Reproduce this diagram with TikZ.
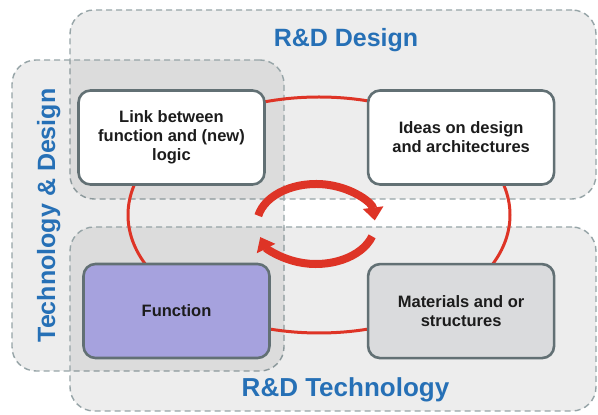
\documentclass[tikz,border=0pt]{standalone}
\usepackage{fontspec}
\setmainfont{Liberation Sans}
\usetikzlibrary{arrows.meta,calc,positioning}
\definecolor{rdblue}{RGB}{38,112,182}
\definecolor{rdred}{RGB}{222,52,38}
\definecolor{dashgray}{RGB}{150,164,167}
\definecolor{boxline}{RGB}{98,112,116}
\definecolor{lavender}{RGB}{166,162,222}
\definecolor{stone}{RGB}{218,219,221}
\definecolor{ink}{RGB}{28,28,28}

\begin{document}
\begin{tikzpicture}[x=1pt,y=1pt,>=Latex,node distance=77pt and 101pt,
  region/.style={draw=dashgray,dash pattern=on 6pt off 4pt,line width=1.4pt,
    rounded corners=24pt,fill=black,fill opacity=0.07,inner sep=0pt},
  box/.style={draw=boxline,line width=2.6pt,rounded corners=12pt,fill=white,
    minimum width=186pt,minimum height=94pt,align=center,text=ink,
    font=\bfseries\fontsize{16.5}{19}\selectfont},
  heading/.style={text=rdblue,anchor=base,font=\bfseries\fontsize{25}{30}\selectfont},
  ring/.style={draw=rdred,line width=3pt},
  cycarrow/.style={draw=rdred,line width=8pt,-{Triangle[width=20pt,length=13pt]}}]
\useasboundingbox[fill=white] (0,0) rectangle (598,415);

% regions
\node[region,minimum width=526pt,minimum height=189pt] (design) at (333,310.5) {};
\node[region,minimum width=272pt,minimum height=311pt] (techdes) at (148,199.5) {};
\node[region,minimum width=526pt,minimum height=184pt] (tech) at (333,96) {};

\node[heading] (designlbl) at (346,368) {R\&D Design};
\node[heading,font=\bfseries\fontsize{26}{30}\selectfont] (techlbl) at (345.5,18) {R\&D Technology};
\node[heading,rotate=90] (techdeslbl) at (55,199.5) {Technology \& Design};

% cycle behind the boxes
\draw[ring] (319,200) ellipse [x radius=191pt,y radius=118pt];

\coordinate (cyc) at (316,191);
\draw[cycarrow] ($(cyc)+(168:59pt and 40pt)$) arc[start angle=168,end angle=5,x radius=59pt,y radius=40pt];
\draw[cycarrow] ($(cyc)+(-18:59pt and 40pt)$) arc[start angle=-18,end angle=-161,x radius=59pt,y radius=40pt];

% boxes
\node[box] (link) at (171.5,277.5) {Link between\\function and (new)\\logic};
\node[box,right=of link] (ideas) {Ideas on design\\and architectures};
\node[box,fill=lavender] (func) at (176.5,104) {Function};
\node[box,fill=stone,below=of ideas] (mat) {Materials and or\\structures};
\end{tikzpicture}
\end{document}
